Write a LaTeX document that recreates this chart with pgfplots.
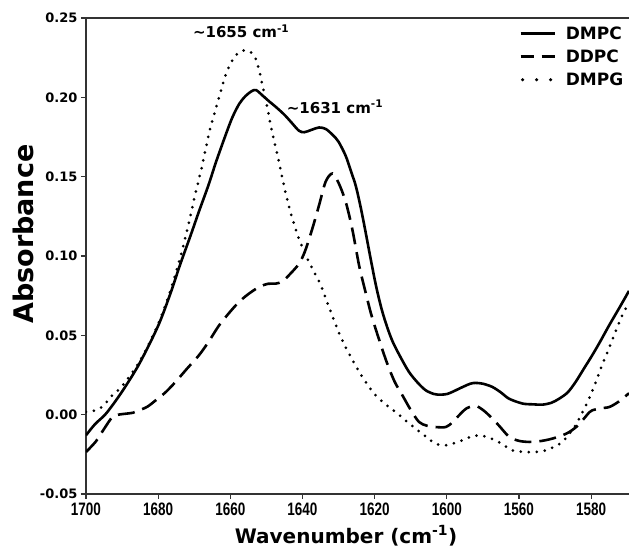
\documentclass[border=0pt]{standalone}
\usepackage{fontspec}
\setmainfont{DejaVu Sans}
\newfontfamily\xtf{Liberation Sans}[FakeStretch=0.75]
\usepackage{pgfplots}
\pgfplotsset{compat=1.18}
\begin{document}
\begin{tikzpicture}
\begin{axis}[
  scale only axis, width=543pt, height=476pt,
  x dir=reverse, xmin=1549.5, xmax=1700,
  ymin=-0.05, ymax=0.25,
  axis x line*=box, axis y line*=left,
  axis line style={-, line width=1.4pt, black!80},
  xtick={1700,1680,1660,1640,1620,1600,1580,1560},
  xticklabels={1700,1680,1660,1640,1620,1600,1560,1580},
  ytick={-0.05,0,0.05,0.1,0.15,0.2,0.25},
  yticklabels={-0.05,0.00,0.05,0.10,0.15,0.20,0.25},
  xtick pos=bottom, ytick pos=left,
  tick align=outside, major tick length=5pt,
  tick style={line width=1.2pt, black!80},
  xticklabel style={font=\xtf\bfseries\fontsize{18}{20}\selectfont},
  yticklabel style={font=\bfseries\fontsize{13}{15}\selectfont},
  xlabel={Wavenumber (cm\textsuperscript{-1})},
  ylabel={Absorbance},
  xlabel style={font=\bfseries\fontsize{20}{24}\selectfont, at={(axis description cs:0.479,-0.104)}, anchor=base},
  ylabel style={font=\bfseries\fontsize{27}{30}\selectfont, at={(axis description cs:-0.116,0.546)}, anchor=center},
  no marks,
  legend style={draw=none, fill=none, at={(axis description cs:0.998,0.99)}, anchor=north east,
    font=\bfseries\fontsize{17}{20}\selectfont, nodes={inner sep=1.5pt}, row sep=6pt, column sep=8pt},
  legend cell align=left,
  legend image code/.code={\draw[#1] (0pt,0pt) -- (34pt,0pt);},
]
\addplot[black, line width=2.6pt, smooth] coordinates {
(1700,-0.013) (1697.5,-0.006) (1694.7,0.000) (1692,0.008) (1689,0.018) (1685,0.033)
(1680,0.056) (1676.5,0.077) (1674,0.094) (1671,0.113) (1668.7,0.128) (1666,0.145)
(1664,0.159) (1661.5,0.175) (1659.5,0.187) (1657.5,0.196) (1655.7,0.201) (1654,0.204)
(1652.8,0.2045) (1651,0.201) (1649,0.197) (1647.4,0.194) (1645,0.189) (1643,0.184)
(1641,0.179) (1639.5,0.178) (1637.5,0.1795) (1635.4,0.181) (1633.5,0.180) (1631.5,0.176)
(1630,0.172) (1628,0.163) (1626.5,0.153) (1625.2,0.144) (1623.8,0.130) (1622.5,0.115)
(1621,0.097) (1619.5,0.080) (1618,0.066) (1616.5,0.055) (1615,0.046) (1613,0.037)
(1610.5,0.027) (1608,0.020) (1605.8,0.0153) (1603.5,0.013) (1601.7,0.0126) (1600,0.013)
(1598.5,0.0143) (1596,0.017) (1593.5,0.0195) (1592,0.020) (1590,0.0195) (1587.4,0.0175)
(1585,0.014) (1582.7,0.010) (1579,0.007) (1576,0.0065) (1573.5,0.0063) (1571,0.0075)
(1568.9,0.010) (1566.5,0.014) (1564.3,0.0206) (1562,0.029) (1559.7,0.0374) (1557.5,0.046)
(1555,0.0563) (1552,0.068) (1549.5,0.078)
};
\addlegendentry{DMPC}
\addplot[black, line width=2.6pt, dash pattern=on 17pt off 8pt, smooth,
  legend image code/.code={\draw[black, line width=2.6pt] (0pt,0pt) -- (13pt,0pt) (21pt,0pt) -- (34pt,0pt);}] coordinates {
(1700,-0.0235) (1697.3,-0.017) (1695,-0.009) (1692.7,-0.0015) (1691,0.000) (1689,0.0006)
(1687,0.0012) (1685.3,0.0027) (1683,0.005) (1680.7,0.009) (1678,0.014) (1675.2,0.0206)
(1672,0.029) (1668.7,0.0374) (1666,0.046) (1663.1,0.0563) (1660,0.065) (1657.6,0.071)
(1655,0.076) (1652,0.0805) (1649.5,0.0825) (1647.4,0.0826) (1645.5,0.084) (1643.7,0.088)
(1641,0.095) (1639.3,0.103) (1637.3,0.117) (1635.4,0.132) (1633.6,0.1467) (1631.7,0.152)
(1629.9,0.1456) (1628,0.134) (1626.2,0.117) (1624.3,0.094) (1622.5,0.077) (1620.6,0.0605)
(1617,0.0353) (1614.5,0.021) (1612.3,0.0122) (1610,0.003) (1607.7,-0.0046) (1605.5,-0.007)
(1603.1,-0.0078) (1600.3,-0.0078) (1598.5,-0.005) (1596.6,-0.0004) (1594.5,0.004) (1592,0.0055)
(1590,0.003) (1588.3,-0.0004) (1585.5,-0.007) (1582.7,-0.014) (1580,-0.0165) (1577.2,-0.0172)
(1574.5,-0.0168) (1571.6,-0.0156) (1568.5,-0.0135) (1566.1,-0.011) (1564,-0.0075) (1562.4,-0.0036)
(1560.5,0.0015) (1559.7,0.0027) (1557.5,0.004) (1555,0.0048) (1552.5,0.008) (1549.5,0.0135)
};
\addlegendentry{DDPC}
\addplot[black, line width=3pt, dash pattern=on 0pt off 8pt, line cap=round, smooth,
  legend image code/.code={\draw[black, line width=3.4pt, line cap=round, dash pattern=on 0pt off 14pt] (2pt,0pt) -- (34pt,0pt);}] coordinates {
(1700,0.0017) (1697,0.003) (1695,0.006) (1692.8,0.012) (1690,0.018) (1685,0.034)
(1680,0.057) (1676.5,0.079) (1674,0.098) (1672,0.116) (1670.5,0.131) (1669.6,0.140)
(1668,0.155) (1666.8,0.168) (1665.5,0.181) (1664,0.193) (1662.5,0.205) (1661.3,0.214)
(1660,0.221) (1658.5,0.2265) (1657,0.229) (1655.7,0.2297) (1654.3,0.2285) (1653,0.2245)
(1652,0.217) (1651.1,0.2076) (1649.7,0.193) (1648.4,0.178) (1646.5,0.159) (1644.7,0.140)
(1643,0.125) (1641,0.111) (1639,0.100) (1637,0.091) (1635,0.082) (1633,0.070)
(1631,0.058) (1629,0.047) (1627,0.038) (1624.3,0.027) (1622,0.019) (1619.7,0.0122)
(1617,0.0065) (1614.2,0.0017) (1611.5,-0.0035) (1608.6,-0.0088) (1606,-0.0135) (1603.1,-0.0183)
(1600.3,-0.0193) (1598,-0.018) (1595.7,-0.0162) (1593.5,-0.014) (1591.1,-0.013) (1589,-0.014)
(1586.5,-0.0162) (1584,-0.0195) (1581.8,-0.0225) (1578.1,-0.0235) (1575,-0.0235) (1572.6,-0.0225)
(1570,-0.020) (1568,-0.0172) (1566,-0.012) (1564.3,-0.0067) (1562.5,0.001) (1560.6,0.010)
(1558.8,0.020) (1557,0.031) (1555,0.042) (1553.3,0.052) (1551.5,0.062) (1549.5,0.071)
};
\addlegendentry{DMPG}
\node[font=\bfseries\fontsize{15}{18}\selectfont] at (axis cs:1657,0.2415) {\textasciitilde1655 cm\textsuperscript{-1}};
\node[font=\bfseries\fontsize{15}{18}\selectfont] at (axis cs:1631,0.194) {\textasciitilde1631 cm\textsuperscript{-1}};
\coordinate (bl) at (axis description cs:0,0);
\coordinate (tr) at (axis description cs:1,1);
\end{axis}
\pgfresetboundingbox
\path[use as bounding box] ([shift={(-86pt,-56pt)}]bl) rectangle ([shift={(0pt,18pt)}]tr);
\end{tikzpicture}
\end{document}
